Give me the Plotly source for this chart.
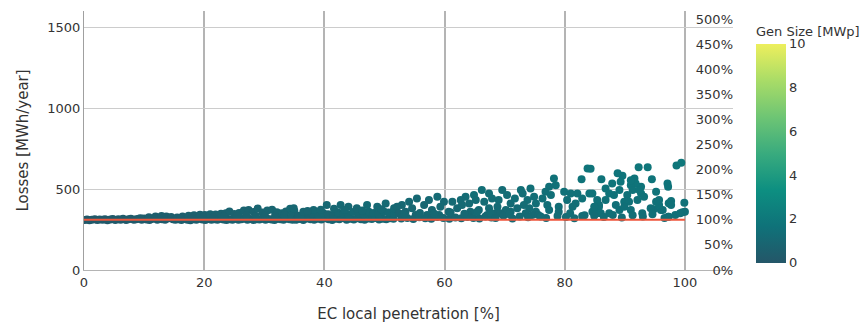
import plotly.graph_objects as go

# ---------------- data ----------------
pen_a = [0.1, 0.5, 0.9, 1.3, 1.8, 2.2, 2.6, 3.1, 3.5, 3.9, 4.4, 4.8, 5.2, 5.7, 6.1, 6.5, 7.0, 7.4, 7.8, 8.3,
         8.7, 9.1, 9.6, 10.0, 10.4, 10.9, 11.3, 11.7, 12.2, 12.6, 13.0, 13.5, 13.9, 14.3, 14.8, 9.4, 10.8, 11.9, 12.9, 13.7, 14.5]
loss_a = [309, 312, 308, 311, 313, 309, 312, 310, 314, 308, 312, 315, 309, 313, 311, 316, 309, 314, 317, 310,
          313, 316, 311, 318, 312, 309, 315, 319, 311, 316, 313, 310, 318, 321, 314, 320, 326, 330, 334, 331, 327]
gen_a = [0.1, 0.2, 0.1, 0.2, 0.2, 0.1, 0.3, 0.2, 0.2, 0.1, 0.3, 0.2, 0.2, 0.3, 0.2, 0.3, 0.2, 0.3, 0.3, 0.2,
         0.3, 0.3, 0.2, 0.4, 0.3, 0.2, 0.3, 0.4, 0.3, 0.4, 0.3, 0.3, 0.4, 0.4, 0.3, 0.4, 0.5, 0.5, 0.5, 0.5, 0.4]

pen_b = [15.2, 15.7, 16.2, 16.7, 17.2, 17.7, 18.2, 18.7, 19.2, 19.7, 20.2, 20.7, 21.2, 21.7, 22.2, 22.7, 23.2, 23.7, 24.2, 24.7,
         25.2, 25.7, 26.2, 26.7, 27.2, 27.7, 28.2, 28.7, 29.2, 29.7, 30.2, 30.7, 31.2, 31.7, 32.2, 32.7, 33.2, 33.7, 34.2, 34.7,
         15.5, 16.4, 17.4, 18.3, 19.3, 20.1, 21.0, 21.9, 22.8, 23.6, 24.2, 25.0, 25.8, 26.6, 27.4, 28.2, 28.9, 29.7, 30.5, 31.3,
         32.1, 32.9, 33.6, 34.3, 35.0,
         16.0, 17.9, 19.8, 21.5, 23.3, 25.4, 27.0, 28.6, 30.1, 31.8, 33.3, 34.6]
loss_b = [310, 313, 309, 315, 311, 308, 314, 310, 316, 312, 309, 315, 311, 313, 310, 317, 312, 309, 314, 311,
          316, 310, 313, 318, 311, 315, 309, 314, 312, 317, 310, 315, 312, 309, 316, 313, 311, 318, 314, 310,
          324, 330, 335, 338, 342, 340, 345, 343, 348, 350, 361, 346, 352, 367, 370, 358, 380, 355, 368, 372,
          356, 350, 362, 379, 365,
          320, 322, 326, 325, 330, 332, 336, 334, 338, 335, 340, 337]
gen_b = [0.4, 0.5, 0.4, 0.5, 0.5, 0.4, 0.5, 0.5, 0.6, 0.5, 0.5, 0.6, 0.5, 0.6, 0.5, 0.6, 0.6, 0.5, 0.6, 0.6,
         0.7, 0.6, 0.6, 0.7, 0.6, 0.7, 0.6, 0.7, 0.7, 0.7, 0.7, 0.8, 0.7, 0.7, 0.8, 0.8, 0.7, 0.8, 0.8, 0.8,
         0.5, 0.5, 0.6, 0.6, 0.6, 0.6, 0.7, 0.7, 0.7, 0.7, 0.8, 0.7, 0.8, 0.8, 0.8, 0.8, 0.9, 0.8, 0.9, 0.9,
         0.9, 0.9, 0.9, 1.0, 1.0,
         0.5, 0.5, 0.6, 0.6, 0.7, 0.7, 0.7, 0.8, 0.8, 0.8, 0.9, 0.9]

pen_c = [35.3, 35.9, 36.5, 37.1, 37.7, 38.3, 38.9, 39.5, 40.1, 40.7, 41.3, 41.9, 42.5, 43.1, 43.7, 44.3, 44.9, 45.5, 46.1, 46.7,
         47.3, 47.9, 48.5, 49.1, 49.7, 50.3, 50.9, 51.5,
         35.6, 36.4, 37.3, 38.1, 39.0, 39.8, 40.6, 41.5, 42.3, 43.2, 44.0, 44.8, 45.7, 46.5, 47.4, 48.2, 49.0, 49.9, 50.7, 51.6,
         34.9, 36.5, 38.2, 40.4, 42.7, 44.0, 45.4, 47.1, 48.8, 50.2, 51.6, 37.2, 39.4, 41.6, 43.4, 46.3, 49.5]
loss_c = [311, 315, 309, 318, 313, 310, 316, 312, 320, 314, 309, 317, 313, 321, 311, 316, 312, 319, 314, 310,
          318, 315, 322, 312, 317, 313, 320, 316,
          335, 342, 338, 347, 340, 352, 345, 338, 355, 348, 342, 358, 350, 345, 360, 352, 348, 362, 355, 350,
          381, 360, 370, 401, 401, 391, 381, 401, 391, 411, 381, 365, 372, 378, 370, 368, 375]
gen_c = [0.7, 0.8, 0.7, 0.8, 0.8, 0.7, 0.8, 0.8, 0.9, 0.8, 0.8, 0.9, 0.8, 0.9, 0.8, 0.9, 0.9, 0.9, 0.9, 0.8,
         1.0, 0.9, 1.0, 0.9, 1.0, 0.9, 1.0, 1.0,
         0.8, 0.9, 0.8, 0.9, 0.9, 1.0, 0.9, 0.9, 1.0, 1.0, 1.0, 1.1, 1.0, 1.0, 1.1, 1.1, 1.0, 1.1, 1.1, 1.1,
         1.0, 0.9, 1.0, 1.1, 1.1, 1.1, 1.0, 1.2, 1.1, 1.2, 1.1, 0.9, 1.0, 1.0, 1.1, 1.1, 1.1]

pen_d = [66.2, 67.4, 58.8, 55.4, 63.5, 64.9, 62.7, 61.3, 59.9, 57.4, 56.6, 54.1, 52.9, 52.1, 54.6, 53.5, 55.2, 57.9, 59.3, 60.7,
         62.1, 62.9, 64.1, 65.2, 66.6, 67.9, 65.7, 67.4, 64.3, 68.5, 59.1, 52.4, 57.1, 63.9, 67.1,
         52.8, 53.8, 54.8, 55.8, 56.8, 57.8, 58.8, 59.8, 60.8, 61.8, 62.8, 63.8, 64.8, 65.8, 66.8, 67.8,
         53.3, 55.9, 58.3, 61.0, 63.3, 65.4, 67.7]
loss_d = [494, 473, 452, 442, 452, 463, 432, 421, 421, 432, 401, 421, 401, 391, 381, 360, 339, 370, 391, 360,
          381, 401, 411, 432, 421, 442, 370, 381, 360, 350, 339, 350, 339, 339, 339,
          318, 322, 315, 326, 320, 317, 328, 321, 316, 324, 319, 327, 322, 318, 330, 325,
          345, 352, 348, 355, 347, 358, 352]
gen_d = [1.4, 1.3, 1.2, 1.1, 1.3, 1.4, 1.2, 1.2, 1.1, 1.1, 1.0, 1.1, 1.0, 1.0, 1.0, 0.9, 0.9, 1.0, 1.1, 1.0,
         1.1, 1.2, 1.2, 1.3, 1.3, 1.3, 1.1, 1.2, 1.1, 1.1, 1.0, 0.9, 1.0, 1.0, 1.0,
         0.9, 1.0, 0.9, 1.0, 1.0, 0.9, 1.0, 1.0, 0.9, 1.0, 1.0, 1.1, 1.0, 1.0, 1.1, 1.1,
         1.0, 1.0, 1.1, 1.1, 1.1, 1.2, 1.2]

pen_e = [83.8, 82.8, 78.2, 78.5, 77.4, 76.8, 69.6, 72.7, 74.3, 70.4, 69.0, 71.0, 70.2, 69.3, 71.0, 73.0, 73.8, 74.9, 73.2, 74.1,
         75.2, 76.3, 77.7, 73.5, 75.2, 77.1, 77.4, 79.0, 79.9, 81.0, 82.1, 80.4, 81.8, 82.9, 84.1, 81.3, 82.9, 84.6, 79.0, 72.1,
         71.7, 68.8, 74.6,
         68.5, 69.8, 71.3, 72.5, 73.9, 75.6, 76.9, 78.8, 80.2, 81.6, 83.3, 70.8, 76.0, 80.9]
loss_e = [627, 560, 566, 524, 514, 483, 494, 494, 504, 463, 432, 411, 370, 350, 360, 473, 432, 452, 401, 381,
          411, 442, 463, 350, 360, 401, 370, 391, 483, 473, 473, 432, 411, 442, 473, 391, 333, 360, 360, 381,
          442, 391, 339,
          322, 335, 318, 330, 326, 340, 321, 333, 328, 319, 338, 345, 330, 350]
gen_e = [1.8, 1.7, 1.6, 1.6, 1.5, 1.5, 1.3, 1.4, 1.5, 1.3, 1.3, 1.2, 1.2, 1.1, 1.2, 1.4, 1.4, 1.4, 1.3, 1.3,
         1.4, 1.5, 1.5, 1.2, 1.3, 1.4, 1.4, 1.4, 1.6, 1.6, 1.6, 1.5, 1.5, 1.6, 1.7, 1.4, 1.3, 1.4, 1.3, 1.2,
         1.4, 1.2, 1.2,
         1.1, 1.1, 1.1, 1.2, 1.2, 1.2, 1.2, 1.3, 1.3, 1.3, 1.3, 1.2, 1.3, 1.4]

pen_f = [98.6, 99.4, 92.3, 93.8, 89.6, 88.8, 86.1, 94.5, 97.1, 97.2, 100.0, 99.9, 97.3, 97.7, 97.3, 96.0, 94.8, 95.7, 95.2, 92.7,
         92.7, 91.8, 91.0, 91.3, 90.4, 89.9, 90.7, 89.1, 89.3, 87.9, 86.8, 87.4, 88.2, 86.8, 85.7, 85.4, 84.6, 84.3, 87.4, 85.4,
         85.7, 89.1, 89.9, 88.5, 91.0, 92.9, 94.3, 96.3, 97.7, 97.2, 99.6, 84.9, 86.0, 92.1, 93.2, 95.7, 95.2, 92.4, 91.6, 91.0,
         84.9, 86.5, 88.0, 89.5, 91.3, 93.0, 94.6, 96.6, 98.4, 99.2]
loss_f = [646, 662, 635, 634, 582, 597, 561, 560, 535, 514, 360, 415, 413, 426, 329, 370, 376, 432, 483, 473,
          514, 535, 524, 494, 463, 421, 421, 494, 545, 535, 504, 473, 463, 432, 401, 432, 473, 626, 350, 350,
          391, 370, 391, 401, 370, 350, 381, 370, 401, 329, 356, 391, 350, 432, 452, 401, 421, 494, 566, 555,
          335, 328, 340, 325, 338, 330, 345, 322, 340, 350]
gen_f = [1.9, 2.0, 1.9, 1.9, 1.8, 1.8, 1.7, 1.8, 1.8, 1.7, 1.5, 1.6, 1.6, 1.6, 1.4, 1.5, 1.5, 1.6, 1.7, 1.7,
         1.7, 1.8, 1.7, 1.7, 1.6, 1.6, 1.6, 1.7, 1.8, 1.8, 1.7, 1.7, 1.6, 1.6, 1.5, 1.6, 1.7, 1.8, 1.5, 1.5,
         1.5, 1.5, 1.5, 1.5, 1.5, 1.5, 1.5, 1.5, 1.6, 1.4, 1.5, 1.5, 1.5, 1.6, 1.6, 1.6, 1.6, 1.7, 1.8, 1.8,
         1.3, 1.4, 1.4, 1.3, 1.4, 1.4, 1.5, 1.4, 1.5, 1.5]

penetration = pen_a + pen_b + pen_c + pen_d + pen_e + pen_f
losses = loss_a + loss_b + loss_c + loss_d + loss_e + loss_f
gen_size = gen_a + gen_b + gen_c + gen_d + gen_e + gen_f

baseline_pen = [0, 100]
baseline_loss = 310          # MWh/year, red reference line (= 100 %)
loss_axis_max = 1600

# ---------------- figure ----------------
FONT = "Verdana, DejaVu Sans, sans-serif"
TXT = "#333333"

fig = go.Figure()
fig.add_trace(go.Scatter(
    x=penetration, y=losses, mode="markers", showlegend=False,
    marker=dict(size=8, color=gen_size, colorscale="Aggrnyl", cmin=0, cmax=10,
                line=dict(width=0),
                colorbar=dict(title=dict(text="Gen Size [MWp]", side="top",
                                         font=dict(size=13, family=FONT, color=TXT)),
                              thickness=30, outlinewidth=0, dtick=2, len=1.0, y=0.49,
                              tickfont=dict(size=13, family=FONT, color=TXT))),
))
fig.add_trace(go.Scatter(
    x=baseline_pen, y=[baseline_loss / baseline_loss] * len(baseline_pen),
    mode="lines", yaxis="y2", showlegend=False,
    line=dict(color="#EF553B", width=2),
))

fig.update_layout(
    width=865, height=323,
    margin=dict(l=84, r=132, t=11, b=53, autoexpand=False),
    paper_bgcolor="white", plot_bgcolor="white",
    font=dict(family=FONT, size=13, color=TXT),
    xaxis=dict(range=[0, 108], tick0=0, dtick=20, showgrid=True, gridcolor="#b4b4b4", gridwidth=2,
               showline=True, linecolor="#b4b4b4", linewidth=1, zeroline=False, ticks="",
               automargin=False,
               title=dict(text="EC local penetration [%]", font=dict(size=15), standoff=20)),
    yaxis=dict(range=[0, loss_axis_max], tick0=0, dtick=500, showgrid=True, gridcolor="#cccccc", gridwidth=1,
               showline=True, linecolor="#a0a0a0", linewidth=1, zeroline=False, ticks="",
               automargin=False,
               title=dict(text="Losses [MWh/year]", font=dict(size=15))),
    yaxis2=dict(overlaying="y", side="left", anchor="free", position=1.0,
                range=[0, loss_axis_max / baseline_loss],
                tick0=0, dtick=0.5, tickformat=".0%", showgrid=False, zeroline=False,
                automargin=False, showline=False, ticks=""),
)

fig.write_html("out.html")
